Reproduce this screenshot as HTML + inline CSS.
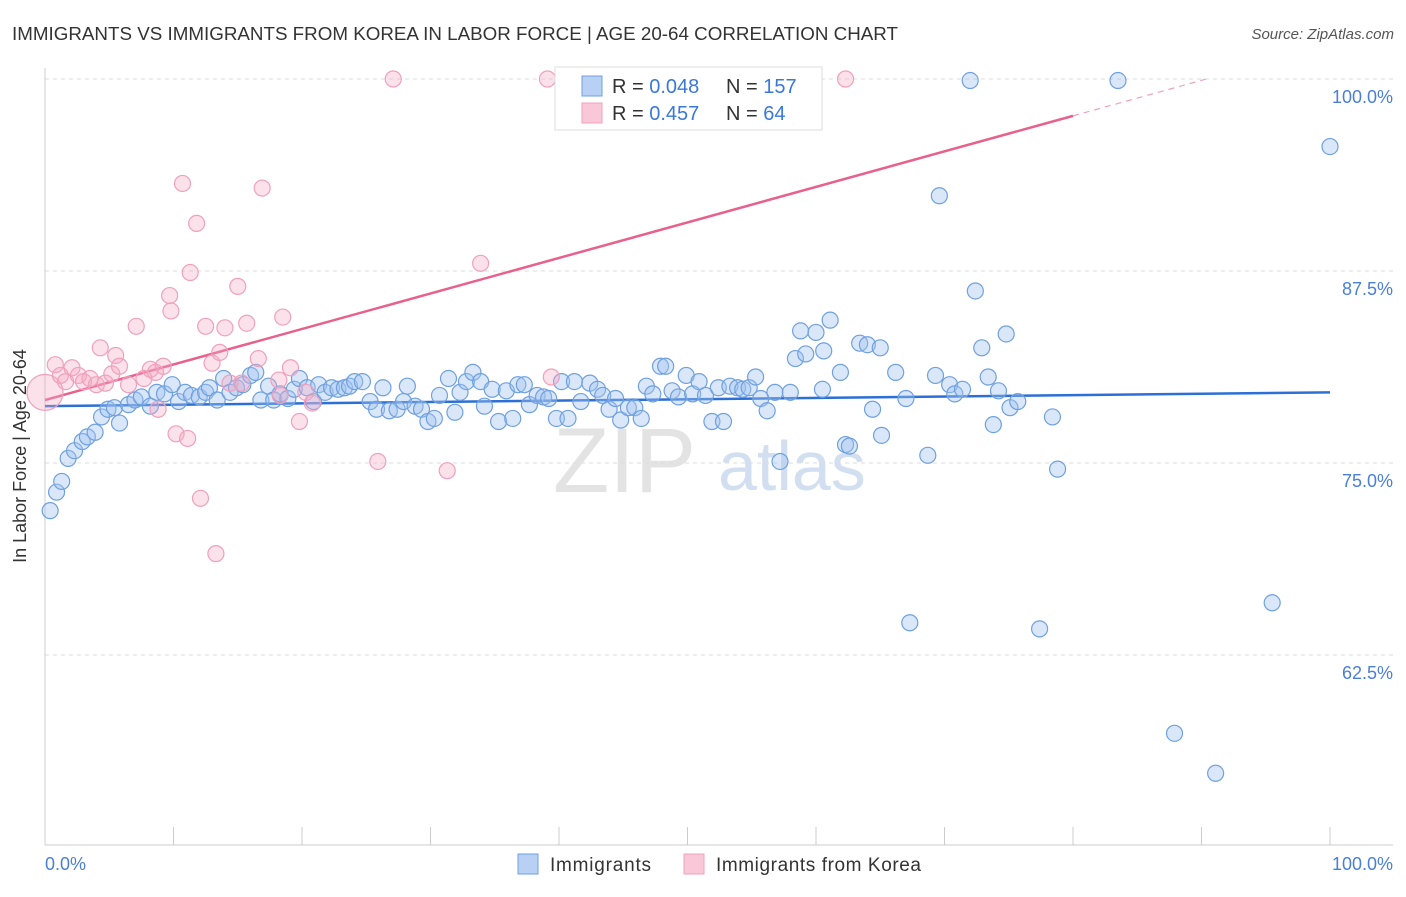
<!DOCTYPE html>
<html><head><meta charset="utf-8">
<style>
body{margin:0;background:#fff;font-family:"Liberation Sans",sans-serif;}
svg text{font-family:"Liberation Sans",sans-serif;}
</style></head>
<body>
<svg id="chart" width="1406" height="892" viewBox="0 0 1406 892" xmlns="http://www.w3.org/2000/svg">
<text x="12" y="40" font-size="18" fill="#333" textLength="886" lengthAdjust="spacingAndGlyphs">IMMIGRANTS VS IMMIGRANTS FROM KOREA IN LABOR FORCE | AGE 20-64 CORRELATION CHART</text>
<text x="1394" y="39" font-size="15" fill="#555" text-anchor="end" font-style="italic">Source: ZipAtlas.com</text>
<g>
<text x="553" y="492" font-size="92" fill="#ddd" font-family="Liberation Serif,serif" opacity="0.8">ZIP</text>
<text x="718" y="490" font-size="70" fill="#c8d8ee" opacity="0.8">atlas</text>
</g>
<g id="grid"></g>
<g id="axes"></g>
<g id="trend"></g>
<g id="pts"></g>
<text x="26" y="456" font-size="18" fill="#333" text-anchor="middle" transform="rotate(-90 26 456)">In Labor Force | Age 20-64</text>
<text x="45" y="870" font-size="18" fill="#4a7fd4">0.0%</text>
<text x="1393" y="870" font-size="18" fill="#4a7fd4" text-anchor="end">100.0%</text>
<g>
<rect x="555" y="67" width="267" height="63" fill="#fff" stroke="#ddd"/>
<rect x="582" y="76" width="20" height="20" fill="#b8d0f4" stroke="#6fa0e0"/>
<rect x="582" y="103" width="20" height="20" fill="#f8c8d8" stroke="#f0a0bc"/>
<text x="612" y="93" font-size="20" fill="#333">R = <tspan fill="#3a78d8">0.048</tspan></text>
<text x="726" y="93" font-size="20" fill="#333">N = <tspan fill="#3a78d8">157</tspan></text>
<text x="612" y="120" font-size="20" fill="#333">R = <tspan fill="#3a78d8">0.457</tspan></text>
<text x="726" y="120" font-size="20" fill="#333">N = <tspan fill="#3a78d8"> 64</tspan></text>
</g>
<g>
<rect x="518" y="854" width="20" height="20" fill="#b8d0f4" stroke="#6fa0e0"/>
<text x="550" y="871" font-size="19" fill="#333" textLength="101">Immigrants</text>
<rect x="684" y="854" width="20" height="20" fill="#f8c8d8" stroke="#f0a0bc"/>
<text x="716" y="871" font-size="19" fill="#333" textLength="205">Immigrants from Korea</text>
</g>
</svg>
<script>
const yTicks=[100,87.5,75,62.5];
const yTickLabels=["100.0%","87.5%","75.0%","62.5%"];
const xTicks=[0,10,20,30,40,50,60,70,80,90,100];
const blueX=[0.4,0.9,1.3,1.8,2.3,2.9,3.3,3.9,4.4,4.9,5.4,5.8,6.5,7.0,7.5,8.2,8.7,9.3,9.9,10.4,10.9,11.4,12.0,12.5,12.8,13.4,13.9,14.4,14.9,15.4,16.0,16.4,16.8,17.4,17.8,18.3,18.9,19.4,19.8,20.4,20.9,21.3,21.8,22.3,22.8,23.3,23.7,24.1,24.7,25.3,25.8,26.3,26.8,27.4,27.9,28.2,28.8,29.3,29.8,30.3,30.7,31.4,31.9,32.3,32.8,33.3,33.9,34.2,34.8,35.3,35.9,36.4,36.8,37.3,37.7,38.3,38.8,39.2,39.8,40.2,40.7,41.2,41.7,42.4,43.0,43.4,43.9,44.4,44.8,45.4,45.9,46.4,46.8,47.3,47.9,48.3,48.8,49.3,49.9,50.4,50.9,51.4,51.9,52.4,52.8,53.3,53.9,54.3,54.8,55.3,55.7,56.2,56.8,57.2,58.0,58.4,58.8,59.2,60.0,60.5,60.6,61.1,61.9,62.3,62.6,63.4,64.0,64.4,65.0,65.1,66.2,67.0,67.3,68.7,69.3,69.6,70.4,70.8,71.4,72.0,72.4,72.9,73.4,73.8,74.2,74.8,75.1,75.7,77.4,78.4,78.8,83.5,87.9,91.1,95.5,100];
const blueY=[71.9,73.1,73.8,75.3,75.8,76.4,76.7,77.0,78.0,78.5,78.6,77.6,78.8,79.1,79.3,78.7,79.6,79.5,80.1,79.0,79.6,79.4,79.3,79.6,79.9,79.1,80.5,79.6,79.9,80.1,80.7,80.9,79.1,80.0,79.1,79.5,79.2,79.8,80.5,79.9,79.0,80.1,79.6,79.9,79.8,79.9,80.0,80.3,80.3,79.0,78.5,79.9,78.4,78.5,79.0,80.0,78.7,78.5,77.7,77.9,79.4,80.5,78.3,79.6,80.3,80.9,80.3,78.7,79.8,77.7,79.7,77.9,80.1,80.1,78.8,79.4,79.3,79.2,77.9,80.3,77.9,80.3,79.0,80.2,79.8,79.4,78.5,79.2,77.8,78.6,78.6,77.9,80.0,79.5,81.3,81.3,79.7,79.3,80.7,79.5,80.3,79.4,77.7,79.9,77.7,80.0,79.9,79.8,79.9,80.6,79.2,78.4,79.6,75.1,79.6,81.8,83.6,82.1,83.5,79.8,82.3,84.3,80.9,76.2,76.1,82.8,82.7,78.5,82.5,76.8,80.9,79.2,64.6,75.5,80.7,92.4,80.1,79.5,79.8,99.9,86.2,82.5,80.6,77.5,79.7,83.4,78.6,79.0,64.2,78.0,74.6,99.9,57.4,54.8,65.9,95.6];
const pinkX=[0.0,0.8,1.2,1.6,2.1,2.6,3.0,3.5,4.0,4.3,4.7,5.2,5.5,5.8,6.5,7.1,7.7,8.2,8.6,8.8,9.2,9.7,9.8,10.2,10.7,11.1,11.3,11.8,12.1,12.5,13.0,13.3,13.6,14.0,14.4,15.0,15.3,15.7,16.6,16.9,18.2,18.5,19.1,19.8,20.3,20.8,25.9,27.1,31.3,33.9,39.1,39.4,62.3,18.3];
const pinkY=[79.6,81.4,80.7,80.3,81.2,80.7,80.3,80.5,80.1,82.5,80.2,80.8,82.0,81.3,80.1,83.9,80.5,81.1,80.9,78.5,81.3,85.9,84.9,76.9,93.2,76.6,87.4,90.6,72.7,83.9,81.5,69.1,82.2,83.8,80.2,86.5,80.2,84.1,81.8,92.9,80.4,84.5,81.2,77.7,79.6,78.9,75.1,100,74.5,88.0,100,80.6,100,79.4];
const blueTrend=[78.7,79.6];
const pinkTrend=[79.1,97.6];
const NS="http://www.w3.org/2000/svg";
function X(v){return 45+v*12.85;}
function Y(v){return 79+(100-v)*15.36;}
function mk(t,a,p){const e=document.createElementNS(NS,t);for(const k in a)e.setAttribute(k,a[k]);p.appendChild(e);return e;}
const grid=document.getElementById('grid'),axes=document.getElementById('axes'),trend=document.getElementById('trend'),pts=document.getElementById('pts');
yTicks.forEach((t,i)=>{
 const l=mk('line',{x1:45,x2:1393,y1:Y(t),y2:Y(t),stroke:'#ddd','stroke-dasharray':'4,4'},grid);
 
 
 const tx=mk('text',{x:1393,y:Y(t)+24,'font-size':18,fill:'#4a7fd4','text-anchor':'end'},grid);
 tx.textContent=yTickLabels[i];
 
 
});
const ya=mk('line',{x1:45,x2:45,y1:68,y2:845,stroke:'#ccc'},axes);


const xa=mk('line',{x1:45,x2:1393,y1:845,y2:845,stroke:'#ccc'},axes);


xTicks.forEach(t=>{
 const l=mk('line',{x1:X(t),x2:X(t),y1:827,y2:845,stroke:'#ccc'},axes);
 
 
});
blueX.forEach((x,i)=>{
 const c=mk('circle',{cx:X(x),cy:Y(blueY[i]),r:8,fill:'rgba(160,195,240,0.4)',stroke:'#6fa0e0','stroke-width':1.2},pts);
 
 
});
pinkX.forEach((x,i)=>{
 const c=mk('circle',{cx:X(x),cy:Y(pinkY[i]),r:i===0?18:8,fill:'rgba(244,170,196,0.35)',stroke:'#f0a0bc','stroke-width':1.2},pts);
 
 
});
const bt=mk('line',{x1:X(0),y1:Y(blueTrend[0]),x2:X(100),y2:Y(blueTrend[1]),stroke:'#2c6fd6','stroke-width':2.5},trend);


const slope=(pinkTrend[1]-pinkTrend[0])/80;
const pt=mk('line',{x1:X(0),y1:Y(pinkTrend[0]),x2:X(80),y2:Y(pinkTrend[1]),stroke:'#e8608c','stroke-width':2.5},trend);


const xe=(100-pinkTrend[0])/slope;
const pd=mk('line',{x1:X(80),y1:Y(pinkTrend[1]),x2:X(xe),y2:Y(100),stroke:'#f0a0bc','stroke-width':1.2,'stroke-dasharray':'6,5'},trend);


</script>
</body></html>
